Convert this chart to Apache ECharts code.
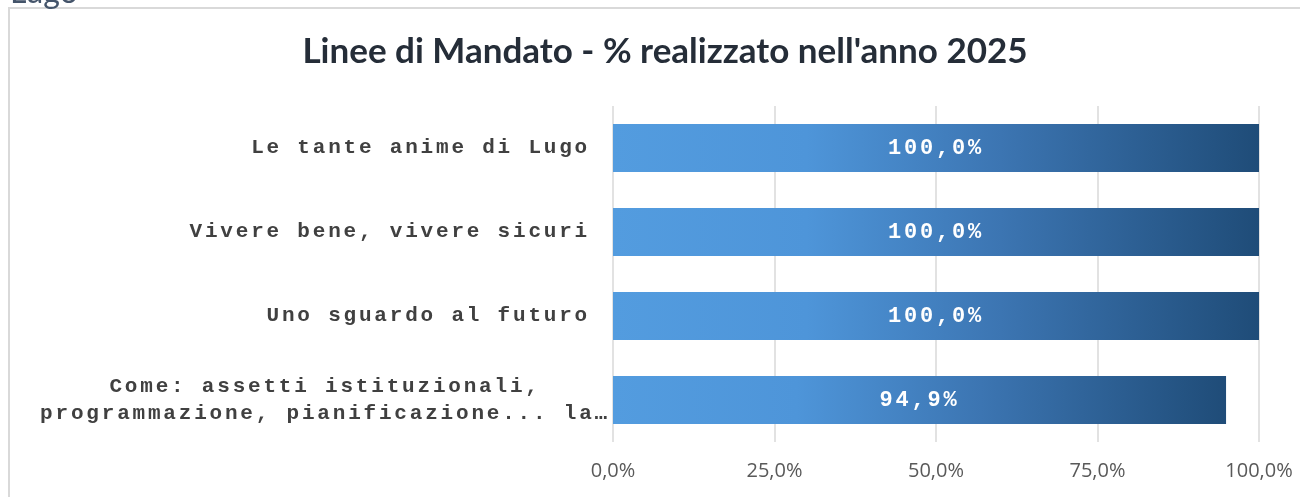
<!DOCTYPE html>
<html>
<head>
<meta charset="utf-8">
<script src="https://cdn.jsdelivr.net/npm/echarts@6/dist/echarts.min.js"></script>
<style>
  html, body { margin: 0; padding: 0; background: #fff; }
  #chart { width: 1300px; height: 497px; }
</style>
</head>
<body>
<div id="chart"></div>
<script>
// dati del grafico
const titolo = "Linee di Mandato - % realizzato nell'anno 2025";
const linee = [
  'Le tante anime di Lugo',
  'Vivere bene, vivere sicuri',
  'Uno sguardo al futuro',
  'Come: assetti istituzionali,\nprogrammazione, pianificazione... la…'
];
const percentuali = [100, 100, 100, 94.9];
const tickX = [0, 25, 50, 75, 100];

// Courier in Excel è spaziato: aggiungo letterSpacing ai testi mono
const proto = CanvasRenderingContext2D.prototype;
const origFill = proto.fillText;
const origMeasure = proto.measureText;
function spaziatura(ctx) {
  ctx.letterSpacing = /Mono/.test(ctx.font) ? '2.8px' : '0px';
}
proto.fillText = function () { spaziatura(this); return origFill.apply(this, arguments); };
proto.measureText = function () { spaziatura(this); return origMeasure.apply(this, arguments); };

const formatta = v => v.toFixed(1).replace('.', ',') + '%';

const chart = echarts.init(document.getElementById('chart'));

chart.setOption({
  animation: false,
  title: {
    text: titolo,
    left: 660,
    top: 29,
    textAlign: 'center',
    textStyle: {
      fontFamily: 'Lato',
      fontWeight: 'bold',
      fontSize: 35,
      color: '#252d38'
    }
  },
  graphic: [
    {
      type: 'rect',
      shape: { x: 9, y: 8, width: 1400, height: 600 },
      style: { fill: 'none', stroke: '#d9d9d9', lineWidth: 2 },
      silent: true
    },
    {
      type: 'text',
      x: 10,
      y: 9,
      style: {
        text: 'Lugo',
        font: '32px Lato',
        fill: '#44546a',
        verticalAlign: 'bottom'
      },
      silent: true
    }
  ],
  grid: {
    left: 613,
    right: 41,
    top: 106,
    bottom: 55
  },
  xAxis: {
    type: 'value',
    min: tickX[0],
    max: tickX[tickX.length - 1],
    interval: 25,
    axisLine: { show: false },
    axisTick: { show: false },
    splitLine: { lineStyle: { color: '#d9d9d9', width: 1.5 } },
    axisLabel: {
      margin: 19,
      fontFamily: 'Open Sans',
      fontSize: 20,
      color: '#595959',
      formatter: formatta
    }
  },
  yAxis: {
    type: 'category',
    inverse: true,
    data: linee,
    axisLine: { show: false },
    axisTick: { show: false },
    axisLabel: {
      margin: 3,
      align: 'right',
      formatter: function (v) {
        if (v.indexOf('\n') >= 0) {
          return v.split('\n').map(r => '{b|' + r + '}').join('\n');
        }
        return '{a|' + v + '}';
      },
      rich: {
        a: {
          fontFamily: 'Liberation Mono',
          fontWeight: 'bold',
          fontSize: 21,
          color: '#404040',
          padding: [0, 20, 0, 0]
        },
        b: {
          fontFamily: 'Liberation Mono',
          fontWeight: 'bold',
          fontSize: 21,
          color: '#404040',
          lineHeight: 27,
          align: 'center'
        }
      }
    }
  },
  series: [
    {
      type: 'bar',
      data: percentuali,
      barWidth: 48,
      itemStyle: {
        color: new echarts.graphic.LinearGradient(0, 0, 1, 0, [
          { offset: 0, color: '#539cdf' },
          { offset: 0.3, color: '#4e95d9' },
          { offset: 0.6, color: '#3c75b2' },
          { offset: 1, color: '#1f4c78' }
        ])
      },
      label: {
        show: true,
        position: 'inside',
        formatter: p => formatta(p.value),
        fontFamily: 'Liberation Mono',
        fontWeight: 'bold',
        fontSize: 22,
        color: '#ffffff'
      }
    }
  ]
});
</script>
</body>
</html>
